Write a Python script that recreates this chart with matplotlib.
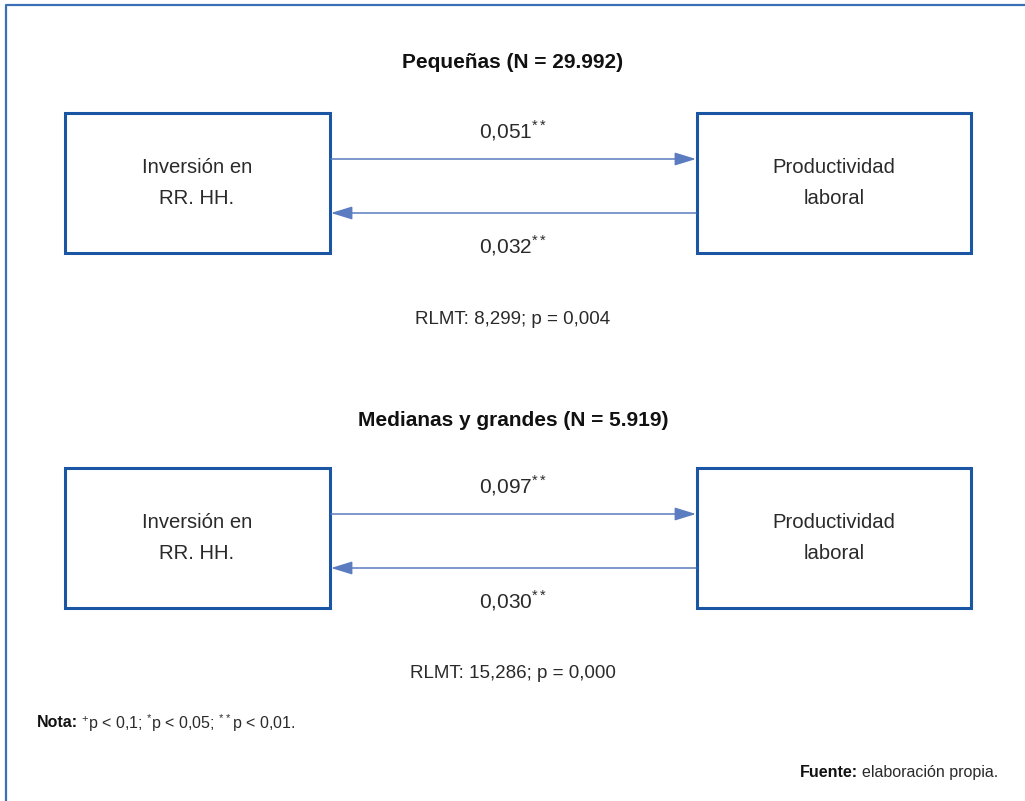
import matplotlib.pyplot as plt
from matplotlib.patches import Rectangle

# panel data
titles = ["Pequeñas (N = 29.992)", "Medianas y grandes (N = 5.919)"]
coef_forward = ["0,051", "0,097"]    # Inversión -> Productividad
coef_backward = ["0,032", "0,030"]   # Productividad -> Inversión
sig_forward = ["**", "**"]
sig_backward = ["**", "**"]
rlmt = ["RLMT: 8,299; p = 0,004", "RLMT: 15,286; p = 0,000"]
left_label = "Inversión en\nRR. HH."
right_label = "Productividad\nlaboral"
nota = r"$^{+}$p < 0,1; $^{*}$p < 0,05; $^{**}$p < 0,01."
fuente = "elaboración propia."

box_col = "#1a56a3"
arrow_col = "#5b7cc0"
frame_col = "#3b70b6"
txt_col = "#2a2a2a"

plt.rcParams['font.family'] = ['Liberation Sans', 'DejaVu Sans']
plt.rcParams['mathtext.fontset'] = 'custom'
plt.rcParams['mathtext.rm'] = 'Liberation Sans'

fig = plt.figure(figsize=(10.25, 8.01), dpi=100)
ax = fig.add_axes([0, 0, 1, 1])
ax.set_xlim(0, 1025)
ax.set_ylim(801, 0)
ax.axis("off")

# outer frame (top + left only visible)
ax.plot([6, 6, 1025], [801, 5, 5], color=frame_col, lw=1.6, solid_capstyle="butt")

offsets = [0, 355]
title_y = [63, 420]
for i, dy in enumerate(offsets):
    ax.text(513, title_y[i], titles[i], ha="center", va="center",
            fontsize=15, fontweight="bold", color="#111111")
    # boxes
    ax.add_patch(Rectangle((65, 113 + dy), 265, 140, fill=False,
                           edgecolor=box_col, lw=2.2))
    ax.add_patch(Rectangle((697, 113 + dy), 274, 140, fill=False,
                           edgecolor=box_col, lw=2.2))
    ax.text(197, 183 + dy, left_label, ha="center", va="center",
            fontsize=14.6, color=txt_col, linespacing=1.75)
    ax.text(834, 183 + dy, right_label, ha="center", va="center",
            fontsize=14.6, color=txt_col, linespacing=1.75)
    # arrows
    ax.annotate("", xy=(696, 159 + dy), xytext=(331, 159 + dy),
                arrowprops=dict(arrowstyle="-|>,head_length=1.3,head_width=0.4",
                                color=arrow_col, lw=1.1, shrinkA=0, shrinkB=0))
    ax.annotate("", xy=(331, 213 + dy), xytext=(696, 213 + dy),
                arrowprops=dict(arrowstyle="-|>,head_length=1.3,head_width=0.4",
                                color=arrow_col, lw=1.1, shrinkA=0, shrinkB=0))
    ax.text(513, 131 + dy, coef_forward[i] + "$^{" + sig_forward[i] + "}$",
            ha="center", va="center", fontsize=15, color=txt_col)
    ax.text(513, 246 + dy, coef_backward[i] + "$^{" + sig_backward[i] + "}$",
            ha="center", va="center", fontsize=15, color=txt_col)
    ax.text(513, 319 + dy, rlmt[i], ha="center", va="center",
            fontsize=13.5, color=txt_col)

renderer = fig.canvas.get_renderer()
inv = ax.transData.inverted()

# nota line: bold label then the rest on the same baseline
t = ax.text(37, 727, "Nota:", ha="left", va="baseline", fontsize=11.5,
            fontweight="bold", color="#111111")
x1 = inv.transform(t.get_window_extent(renderer).p1)[0]
ax.text(x1 + 3, 729, nota, ha="left", va="baseline", fontsize=11.5, color=txt_col)

# fuente line, right aligned
t2 = ax.text(998, 777, fuente, ha="right", va="baseline", fontsize=11.5,
             color=txt_col)
x0 = inv.transform(t2.get_window_extent(renderer).p0)[0]
ax.text(x0 - 4, 777, "Fuente:", ha="right", va="baseline", fontsize=11.5,
        fontweight="bold", color="#111111")

fig.savefig("out.png", dpi=100)
